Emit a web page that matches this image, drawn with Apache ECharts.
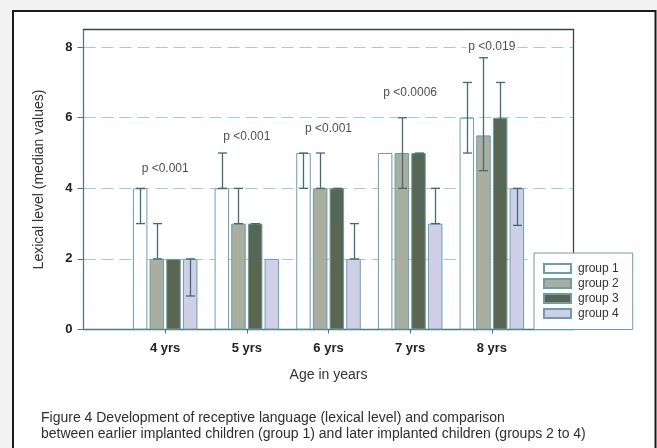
<!DOCTYPE html>
<html>
<head>
<meta charset="utf-8">
<script src="https://cdn.jsdelivr.net/npm/echarts@6/dist/echarts.min.js"></script>
<style>
html,body{margin:0;padding:0;background:#f2f2f2;}
#chart{width:657px;height:448px;}
</style>
</head>
<body>
<div id="chart"></div>
<script>
// ---- data ----
const ages = ['4 yrs', '5 yrs', '6 yrs', '7 yrs', '8 yrs'];
const groupNames = ['group 1', 'group 2', 'group 3', 'group 4'];
const yTicks = [0, 2, 4, 6, 8];

const group1 = [4, 4, 5, 5, 6];
const group1Low = [3, 4, 4, 5, 5];
const group1High = [4, 5, 5, 5, 7];

const group2 = [2, 3, 4, 5, 5.5];
const group2Low = [2, 3, 4, 4, 4.5];
const group2High = [3, 4, 5, 6, 7.7];

const group3 = [2, 3, 4, 5, 6];
const group3Low = [2, 2, 3, 3, 4];
const group3High = [2, 3, 4, 5, 7];

const group4 = [2, 2, 2, 3, 4];
const group4Low = [0.95, 2, 2, 3, 2.95];
const group4High = [2, 2, 3, 4, 4];

const pValues = ['p <0.001', 'p <0.001', 'p <0.001', 'p <0.0006', 'p <0.019'];
const pLabelY = [4.55, 5.45, 5.7, 6.7, 8.0];

const captionLines = [
  'Figure 4 Development of receptive language (lexical level) and comparison',
  'between earlier implanted children (group 1) and later implanted children (groups 2 to 4)'
];

// ---- build ----
const categories = [''].concat(ages, ['']);
const pad = arr => ['-'].concat(arr, ['-']);

const values = [group1, group2, group3, group4];
const lows = [group1Low, group2Low, group3Low, group4Low];
const highs = [group1High, group2High, group3High, group4High];
const fills = ['#ffffff', '#a9ae9e', '#5b6651', '#cfd0e8'];

const barWidth = 14.5;
const barGapRatio = 0.15;
const step = barWidth * (1 + barGapRatio);

const series = [];
values.forEach((v, k) => {
  series.push({
    name: groupNames[k],
    type: 'bar',
    data: pad(v),
    barWidth: barWidth,
    barGap: (barGapRatio * 100) + '%',
    itemStyle: { color: fills[k], borderColor: '#6a9eac', borderWidth: 1 },
    z: 2
  });
});
values.forEach((v, k) => {
  const data = [];
  ages.forEach((a, i) => {
    if (highs[k][i] > lows[k][i]) data.push([i + 1, lows[k][i], highs[k][i]]);
  });
  const offset = (k - 1.5) * step;
  series.push({
    type: 'custom',
    data: data,
    z: 4,
    silent: true,
    renderItem: function (params, api) {
      const x = api.value(0);
      const lo = api.coord([x, api.value(1)]);
      const hi = api.coord([x, api.value(2)]);
      const cx = Math.round(lo[0] + offset) + 0.5;
      const st = { stroke: '#3f6b73', lineWidth: 1.3 };
      return {
        type: 'group',
        children: [
          { type: 'line', shape: { x1: cx, y1: lo[1], x2: cx, y2: hi[1] }, style: st },
          { type: 'line', shape: { x1: cx - 4.5, y1: lo[1], x2: cx + 4.5, y2: lo[1] }, style: st },
          { type: 'line', shape: { x1: cx - 4.5, y1: hi[1], x2: cx + 4.5, y2: hi[1] }, style: st }
        ]
      };
    }
  });
});
series.push({
  type: 'scatter',
  symbolSize: 0,
  silent: true,
  z: 5,
  data: pValues.map((t, i) => ({ value: [i + 1, pLabelY[i]], name: t })),
  label: {
    show: true,
    position: 'inside',
    formatter: p => p.name,
    fontFamily: 'Liberation Sans, Arial, sans-serif',
    fontSize: 12,
    color: '#222',
    backgroundColor: '#ffffff',
    padding: [1, 2]
  }
});

const chart = echarts.init(document.getElementById('chart'), null, { renderer: 'canvas' });
chart.setOption({
  animation: false,
  backgroundColor: '#f2f2f2',
  textStyle: { fontFamily: 'Liberation Sans, Arial, sans-serif' },
  graphic: [
    {
      type: 'rect',
      z: -10,
      shape: { x: 13, y: 11, width: 642.5, height: 460 },
      style: { fill: '#ffffff', stroke: '#1a1a1a', lineWidth: 2 }
    }
  ],
  title: {
    text: captionLines.join('\n'),
    left: 41,
    top: 410,
    padding: 0,
    textStyle: {
      fontFamily: 'Liberation Sans, Arial, sans-serif',
      fontSize: 14,
      fontWeight: 'normal',
      color: '#2e2e2e',
      lineHeight: 16
    }
  },
  legend: {
    data: groupNames,
    orient: 'vertical',
    left: 534,
    top: 253,
    itemWidth: 27,
    itemHeight: 9,
    itemGap: 1,
    padding: [8.5, 14, 9, 9],
    borderColor: '#6a9eac',
    borderWidth: 1,
    backgroundColor: '#ffffff',
    selectedMode: false,
    icon: 'rect',
    textStyle: { fontSize: 12, color: '#333', lineHeight: 14, padding: [0, 0, 0, 2] },
    z: 10
  },
  grid: { left: 83.5, top: 29.5, right: 83.5, bottom: 118.5, containLabel: false },
  xAxis: [
    {
      type: 'category',
      data: categories,
      boundaryGap: false,
      axisLine: { show: true, lineStyle: { color: '#4a7a84', width: 1.3 } },
      axisTick: { show: true, length: 4, interval: i => i > 0 && i < categories.length - 1, lineStyle: { color: '#4a7a84' } },
      axisLabel: { margin: 12, fontSize: 13, fontWeight: 'bold', color: '#222', interval: 0 },
      splitLine: { show: false },
      name: 'Age in years',
      nameLocation: 'middle',
      nameGap: 39,
      nameTextStyle: { fontSize: 14, color: '#333' }
    },
    {
      type: 'category',
      data: categories,
      position: 'top',
      boundaryGap: false,
      z: 5,
      axisLine: { show: true, onZero: false, lineStyle: { color: '#3c4648', width: 1.3 } },
      axisTick: { show: false },
      axisLabel: { show: false },
      splitLine: { show: false }
    }
  ],
  yAxis: [
    {
      type: 'value',
      min: 0,
      max: 8.5,
      interval: 2,
      axisLine: { show: true, onZero: false, lineStyle: { color: '#4a7a84', width: 1.3 } },
      axisTick: { show: true, length: 6, customValues: yTicks, lineStyle: { color: '#4a7a84' } },
      axisLabel: {
        margin: 11,
        fontSize: 13,
        fontWeight: 'bold',
        color: '#222',
        customValues: yTicks,
        formatter: v => (yTicks.indexOf(v) >= 0 ? String(v) : '')
      },
      splitLine: { show: true, lineStyle: { color: '#9ccfd9', type: [12, 6], width: 1.2 } },
      name: 'Lexical level (median values)',
      nameLocation: 'middle',
      nameGap: 37,
      nameTextStyle: { fontSize: 14, color: '#333' }
    },
    {
      type: 'value',
      min: 0,
      max: 8.5,
      interval: 2,
      position: 'right',
      z: 5,
      axisLine: { show: true, onZero: false, lineStyle: { color: '#3c4648', width: 1.3 } },
      axisTick: { show: false },
      axisLabel: { show: false },
      splitLine: { show: false }
    }
  ],
  series: series
});
</script>
</body>
</html>
